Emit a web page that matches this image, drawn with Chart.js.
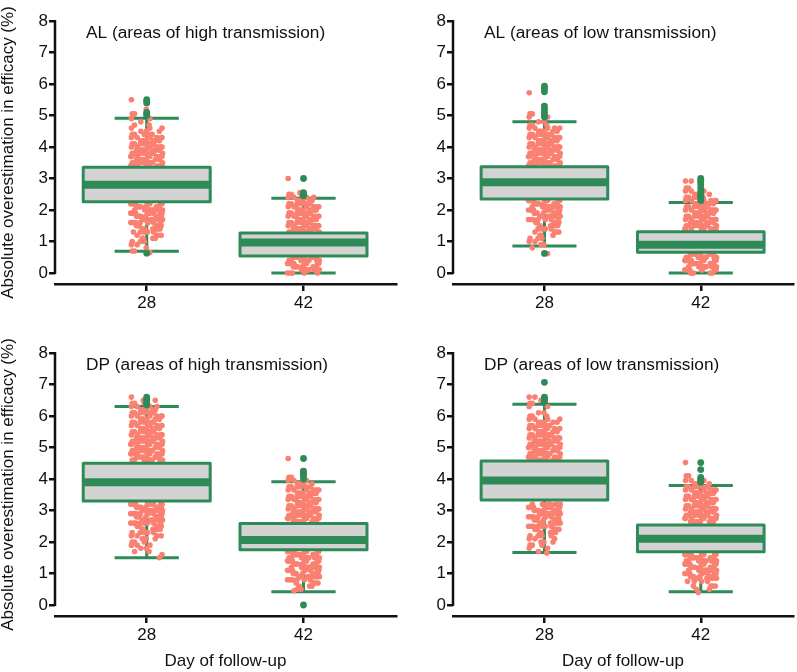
<!DOCTYPE html>
<html>
<head>
<meta charset="utf-8">
<script src="https://cdn.jsdelivr.net/npm/chart.js@4.4.1/dist/chart.umd.min.js"></script>
<style>
  body { margin: 0; background: #fff; width: 797px; height: 672px; overflow: hidden; position: relative; }
  .panel { position: absolute; }
</style>
</head>
<body>
<div class="panel" style="left:0;top:0"><canvas id="c0" width="400" height="330"></canvas></div>
<div class="panel" style="left:400px;top:0"><canvas id="c1" width="397" height="330"></canvas></div>
<div class="panel" style="left:0;top:330px"><canvas id="c2" width="400" height="342"></canvas></div>
<div class="panel" style="left:400px;top:330px"><canvas id="c3" width="397" height="342"></canvas></div>
<script>
// ---- data ----
const days = ['28', '42'];
const panelTitles = [
  'AL (areas of high transmission)',
  'AL (areas of low transmission)',
  'DP (areas of high transmission)',
  'DP (areas of low transmission)'
];
const yTicks = [0, 1, 2, 3, 4, 5, 6, 7, 8];

// box stats per day: [lower whisker, Q1, median, Q3, upper whisker]
const alHighBox = [[0.69, 2.26, 2.80, 3.36, 4.91], [0.0, 0.54, 0.97, 1.27, 2.37]];
const alLowBox  = [[0.86, 2.35, 2.88, 3.37, 4.80], [0.0, 0.66, 0.90, 1.31, 2.24]];
const dpHighBox = [[1.50, 3.30, 3.90, 4.50, 6.30], [0.42, 1.75, 2.06, 2.59, 3.91]];
const dpLowBox  = [[1.67, 3.33, 3.95, 4.57, 6.37], [0.42, 1.69, 2.10, 2.54, 3.79]];

// outliers per day
const alHighOut = [[5.5, 5.45, 5.4, 5.1, 5.05, 5.0, 0.63], [3.0, 2.55, 2.5, 2.45]];
const alLowOut  = [[5.93, 5.85, 5.75, 5.3, 5.2, 5.1, 5.0, 4.95, 0.62], [3.0, 2.95, 2.9, 2.8, 2.7, 2.6, 2.5, 2.45, 2.4, 2.35, 2.3]];
const dpHighOut = [[6.6, 6.55, 6.5, 6.45, 6.4, 6.35], [4.65, 4.25, 4.2, 4.15, 4.1, 4.0, 0.0]];
const dpLowOut  = [[7.07, 6.6, 6.55, 6.5, 6.45], [4.52, 4.3, 4.05, 4.0, 3.95, 3.9]];

// individual estimates: [value, how many points at that value]
const alHigh28 = [[5.5,1],[5.2,1],[5.05,2],[4.9,2],[4.8,1],[4.7,2],[4.6,3],[4.5,3],[4.4,5],[4.3,7],[4.2,8],[4.1,9],[4.0,9],[3.9,9],[3.8,9],[3.7,9],[3.6,9],[3.5,9],[3.4,9],[3.2,9],[3.0,9],[2.8,9],[2.6,9],[2.4,9],[2.2,9],[2.1,9],[2.0,9],[1.9,9],[1.8,9],[1.7,8],[1.6,8],[1.5,7],[1.4,6],[1.3,5],[1.2,4],[1.1,4],[1.0,3],[0.9,2],[0.8,1],[0.7,2],[0.65,1]];
const alHigh42 = [[3.0,1],[2.55,2],[2.5,3],[2.4,4],[2.3,6],[2.2,7],[2.1,8],[2.0,8],[1.9,9],[1.8,9],[1.7,9],[1.6,9],[1.5,9],[1.4,9],[1.3,9],[1.2,9],[1.0,9],[0.8,9],[0.6,9],[0.5,9],[0.4,9],[0.3,9],[0.2,8],[0.1,7],[0.0,5]];
const alLow28 = [[5.72,1],[5.3,1],[5.05,2],[4.95,2],[4.8,2],[4.7,3],[4.6,5],[4.5,6],[4.4,7],[4.3,8],[4.2,8],[4.1,9],[4.0,9],[3.9,9],[3.8,9],[3.7,9],[3.6,9],[3.5,9],[3.4,9],[3.2,9],[3.0,9],[2.8,9],[2.6,9],[2.4,9],[2.3,9],[2.2,9],[2.1,9],[2.0,9],[1.9,8],[1.8,8],[1.7,7],[1.6,6],[1.5,5],[1.4,4],[1.3,4],[1.2,3],[1.1,3],[1.0,2],[0.9,2],[0.8,1],[0.62,1]];
const alLow42 = [[2.92,2],[2.85,1],[2.7,2],[2.6,3],[2.5,4],[2.4,5],[2.3,6],[2.2,7],[2.1,7],[2.0,8],[1.9,8],[1.8,9],[1.7,9],[1.6,9],[1.5,9],[1.4,9],[1.2,9],[1.0,9],[0.8,9],[0.6,9],[0.5,9],[0.4,9],[0.3,9],[0.2,8],[0.1,7],[0.0,5]];
const dpHigh28 = [[6.6,1],[6.5,3],[6.4,3],[6.3,4],[6.2,6],[6.1,6],[6.0,6],[5.9,6],[5.8,7],[5.7,7],[5.6,8],[5.5,8],[5.4,8],[5.3,9],[5.2,9],[5.1,9],[5.0,9],[4.9,9],[4.8,9],[4.7,9],[4.6,9],[4.4,9],[4.2,9],[4.0,9],[3.8,9],[3.6,9],[3.4,9],[3.2,9],[3.1,9],[3.0,9],[2.9,9],[2.8,9],[2.7,8],[2.6,8],[2.5,7],[2.4,6],[2.3,5],[2.2,4],[2.1,4],[2.0,3],[1.9,3],[1.8,2],[1.7,2],[1.6,1],[1.5,1]];
const dpHigh42 = [[4.65,1],[4.25,1],[4.05,2],[3.95,3],[3.85,5],[3.75,6],[3.65,7],[3.55,8],[3.45,8],[3.35,9],[3.25,9],[3.15,9],[3.05,9],[2.95,9],[2.85,9],[2.75,9],[2.65,9],[2.4,9],[2.2,9],[2.0,9],[1.8,9],[1.7,9],[1.6,9],[1.5,9],[1.4,9],[1.3,9],[1.2,9],[1.1,8],[1.0,8],[0.9,7],[0.8,6],[0.7,5],[0.6,3],[0.5,2],[0.45,1]];
const dpLow28 = [[6.6,2],[6.5,2],[6.4,2],[6.3,2],[6.1,2],[6.0,3],[5.9,4],[5.8,5],[5.7,6],[5.6,6],[5.5,7],[5.4,8],[5.3,9],[5.2,9],[5.1,9],[5.0,9],[4.9,9],[4.8,9],[4.7,9],[4.6,9],[4.4,9],[4.2,9],[4.0,9],[3.8,9],[3.6,9],[3.4,9],[3.2,9],[3.1,9],[3.0,9],[2.9,9],[2.8,8],[2.7,8],[2.6,7],[2.5,7],[2.4,6],[2.3,5],[2.2,4],[2.1,3],[2.0,3],[1.9,3],[1.8,2],[1.7,1],[1.65,1]];
const dpLow42 = [[4.52,1],[4.3,1],[4.1,2],[3.95,3],[3.85,4],[3.75,6],[3.65,7],[3.55,8],[3.45,8],[3.35,9],[3.25,9],[3.15,9],[3.05,9],[2.95,9],[2.85,9],[2.75,9],[2.65,9],[2.4,9],[2.2,9],[2.0,9],[1.8,9],[1.6,9],[1.5,9],[1.4,9],[1.3,9],[1.2,9],[1.1,9],[1.0,8],[0.9,7],[0.85,6],[0.75,4],[0.6,4],[0.5,2],[0.4,1]];

// ---- style ----
const GREEN = '#2e8b57', SALMON = '#fa8072', GRAY = '#d3d3d3', INK = '#111';
const FONT = '"Liberation Sans", Arial, sans-serif';
const BOX_W = 0.81, CAP_W = 0.41, JIT_W = 0.105;
// fixed horizontal spread pattern for the stripchart dots
const spread = [-0.93,0.41,-0.12,0.77,-0.58,0.05,0.96,-0.36,0.62,-0.81,0.24,-0.03,0.88,-0.67,0.33,-0.21,0.71,-0.97,0.14,0.52,-0.45,0.85,-0.74,-0.27,0.58,0.09,-0.88,0.37,-0.52,0.93,-0.15,0.67,-0.62,0.19,-0.39,0.81,-0.06];

function stripPoints(rows, x) {
  const out = [];
  rows.forEach(([y, n], r) => {
    for (let k = 0; k < n; k++) out.push({ x: x + JIT_W * spread[(r * 11 + k * 4) % spread.length], y: y });
  });
  return out;
}
function outlierPoints(vals, x) {
  return vals.map(y => ({ x: x, y: y }));
}

const boxPlot = {
  id: 'boxPlot',
  beforeDatasetsDraw(chart, args, opts) {
    // whiskers sit under the dots
    const { ctx } = chart, xs = chart.scales.x, ys = chart.scales.y;
    ctx.save();
    ctx.strokeStyle = GREEN;
    ctx.lineWidth = 3;
    opts.stats.forEach((s, i) => {
      const cx = xs.getPixelForValue(i + 1);
      const cap = xs.getPixelForValue(i + 1 + CAP_W / 2) - cx;
      ctx.beginPath();
      ctx.moveTo(cx, ys.getPixelForValue(s[0]));
      ctx.lineTo(cx, ys.getPixelForValue(s[4]));
      [s[0], s[4]].forEach(v => {
        const py = ys.getPixelForValue(v);
        ctx.moveTo(cx - cap, py);
        ctx.lineTo(cx + cap, py);
      });
      ctx.stroke();
    });
    ctx.restore();
  },
  afterDatasetDraw(chart, args, opts) {
    if (args.index !== 0) return;
    const { ctx } = chart, xs = chart.scales.x, ys = chart.scales.y;
    ctx.save();
    opts.stats.forEach((s, i) => {
      const cx = xs.getPixelForValue(i + 1);
      const half = xs.getPixelForValue(i + 1 + BOX_W / 2) - cx;
      const top = ys.getPixelForValue(s[3]), bot = ys.getPixelForValue(s[1]);
      ctx.fillStyle = GRAY;
      ctx.fillRect(cx - half, top, half * 2, bot - top);
      ctx.strokeStyle = GREEN;
      ctx.lineWidth = 3;
      ctx.lineJoin = 'round';
      ctx.strokeRect(cx - half, top, half * 2, bot - top);
      const my = ys.getPixelForValue(s[2]);
      ctx.lineWidth = 8;
      ctx.beginPath();
      ctx.moveTo(cx - half, my);
      ctx.lineTo(cx + half, my);
      ctx.stroke();
    });
    ctx.restore();
  },
  afterDraw(chart, args, opts) {
    const { ctx, chartArea } = chart, ys = chart.scales.y;
    ctx.save();
    ctx.strokeStyle = INK;
    ctx.lineWidth = 2.5;
    ctx.beginPath();
    ctx.moveTo(chartArea.left, ys.getPixelForValue(yTicks[0]) + 1);
    ctx.lineTo(chartArea.left, ys.getPixelForValue(yTicks[yTicks.length - 1]) - 1);
    ctx.stroke();
    ctx.fillStyle = INK;
    ctx.font = '17.3px ' + FONT;
    ctx.textBaseline = 'middle';
    ctx.fillText(opts.title, chartArea.left + 31, chartArea.top + 12);
    ctx.restore();
  }
};

function makePanel(id, idx, stats, strips, outs, leftSide, bottomRow) {
  new Chart(document.getElementById(id), {
    type: 'scatter',
    data: {
      datasets: [
        { data: stripPoints(strips[0], 1).concat(stripPoints(strips[1], 2)),
          backgroundColor: SALMON, pointRadius: 2.8, borderWidth: 0, order: 2 },
        { data: outlierPoints(outs[0], 1).concat(outlierPoints(outs[1], 2)),
          backgroundColor: GREEN, pointRadius: 3.4, borderWidth: 0, order: 1 }
      ]
    },
    options: {
      responsive: false,
      animation: false,
      events: [],
      layout: { padding: { top: bottomRow ? 23 : 21, right: leftSide ? 2 : 0, left: 0, bottom: 0 } },
      plugins: {
        legend: { display: false },
        tooltip: { enabled: false },
        boxPlot: { stats: stats, title: panelTitles[idx] }
      },
      scales: {
        x: {
          type: 'linear',
          min: 0.415,
          max: 2.59,
          afterBuildTicks: s => { s.ticks = [{ value: 1 }, { value: 2 }]; },
          afterFit: s => { s.height = bottomRow ? 56 : 46; },
          ticks: { callback: v => days[v - 1], color: INK, font: { family: FONT, size: 17 }, padding: 2, maxRotation: 0 },
          grid: { drawOnChartArea: false, drawTicks: true, tickLength: 7, color: INK, lineWidth: 2.5 },
          border: { display: true, color: INK, width: 2.5 },
          title: { display: bottomRow, text: 'Day of follow-up', color: INK, font: { family: FONT, size: 17 }, padding: 0 }
        },
        y: {
          type: 'linear',
          min: -0.35,
          max: 8,
          afterBuildTicks: s => { s.ticks = yTicks.map(v => ({ value: v })); },
          afterFit: s => { s.width = leftSide ? 55 : 53; },
          ticks: { color: INK, font: { family: FONT, size: 17 }, padding: 1 },
          grid: { drawOnChartArea: false, drawTicks: true, tickLength: 6, color: INK, lineWidth: 2.5 },
          border: { display: false },
          title: { display: leftSide, text: 'Absolute overestimation in efficacy (%)', color: INK, font: { family: FONT, size: 17, lineHeight: 1 }, padding: 0 }
        }
      }
    },
    plugins: [boxPlot]
  });
}

makePanel('c0', 0, alHighBox, [alHigh28, alHigh42], alHighOut, true, false);
makePanel('c1', 1, alLowBox, [alLow28, alLow42], alLowOut, false, false);
makePanel('c2', 2, dpHighBox, [dpHigh28, dpHigh42], dpHighOut, true, true);
makePanel('c3', 3, dpLowBox, [dpLow28, dpLow42], dpLowOut, false, true);
</script>
</body>
</html>
